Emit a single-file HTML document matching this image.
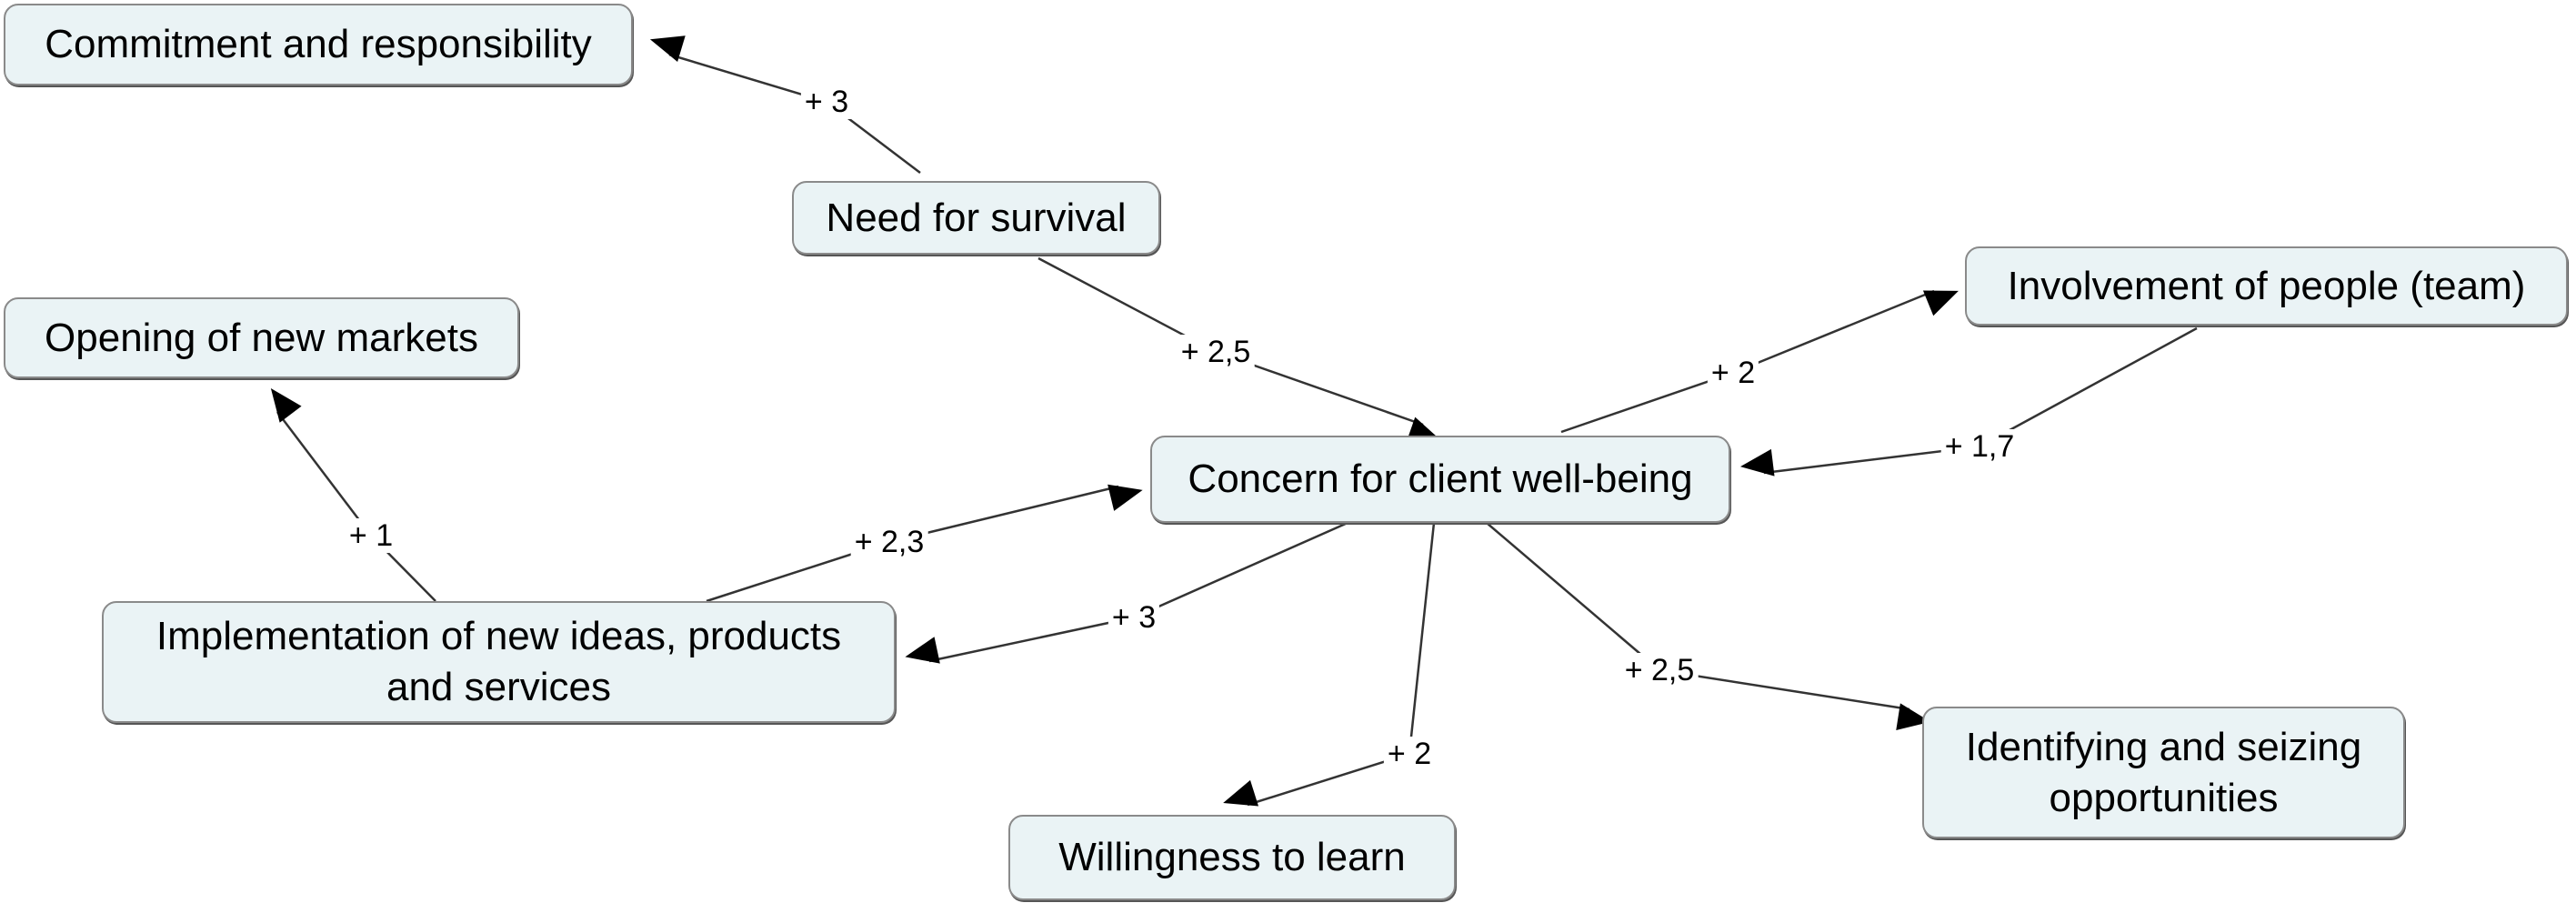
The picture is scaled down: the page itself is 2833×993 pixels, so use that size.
<!DOCTYPE html>
<html><head><meta charset="utf-8"><style>
html,body{margin:0;padding:0;background:#fff;}
body{width:2833px;height:993px;position:relative;overflow:hidden;font-family:"Liberation Sans",Arial,sans-serif;}
.n{position:absolute;box-sizing:border-box;background:#eaf3f5;border:2px solid #8a8a8a;border-radius:16px;box-shadow:1px 2px 0 #555;display:flex;align-items:center;justify-content:center;text-align:center;font-size:44px;line-height:56px;color:#000;}
.l{position:absolute;font-size:34px;color:#000;background:#fff;padding:0 4px;transform:translate(-50%,-50%);white-space:nowrap;line-height:38px;}
svg{position:absolute;left:0;top:0;}
</style></head><body>
<svg width="2833" height="993" viewBox="0 0 2833 993">
<defs><marker id="a" markerWidth="12" markerHeight="10" refX="11" refY="5" orient="auto" markerUnits="userSpaceOnUse" viewBox="0 0 12 10" style="overflow:visible"><path d="M0,0 L12,5 L0,10 z" transform="scale(3)" fill="#000"/></marker></defs>
<g stroke="#333" stroke-width="2.5" fill="none">
<line x1="1012" y1="190" x2="909" y2="112"/><line x1="909" y1="112" x2="736" y2="60" marker-end="url(#a)"/>
<line x1="1142" y1="284" x2="1337" y2="387"/><line x1="1337" y1="387" x2="1565" y2="467" marker-end="url(#a)"/>
<line x1="1717" y1="475" x2="1906" y2="410"/><line x1="1906" y1="410" x2="2127" y2="320" marker-end="url(#a)"/>
<line x1="2416" y1="361" x2="2177" y2="491"/><line x1="2177" y1="491" x2="1940" y2="520" marker-end="url(#a)"/>
<line x1="777" y1="661" x2="978" y2="596"/><line x1="978" y1="596" x2="1230" y2="535" marker-end="url(#a)"/>
<line x1="479" y1="661" x2="408" y2="589"/><line x1="408" y1="589" x2="305" y2="453" marker-end="url(#a)"/>
<line x1="1482" y1="575" x2="1247" y2="679"/><line x1="1247" y1="679" x2="1022" y2="727" marker-end="url(#a)"/>
<line x1="1577" y1="575" x2="1550" y2="829"/><line x1="1550" y1="829" x2="1372" y2="885" marker-end="url(#a)"/>
<line x1="1635" y1="575" x2="1825" y2="737"/><line x1="1825" y1="737" x2="2100" y2="780" marker-end="url(#a)"/>
</g></svg>
<div class="n" style="left:4px;top:4px;width:692px;height:90px">Commitment and responsibility</div>
<div class="n" style="left:871px;top:199px;width:405px;height:81px">Need for survival</div>
<div class="n" style="left:4px;top:327px;width:567px;height:89px">Opening of new markets</div>
<div class="n" style="left:1265px;top:479px;width:638px;height:96px">Concern for client well-being</div>
<div class="n" style="left:2161px;top:271px;width:663px;height:87px">Involvement of people (team)</div>
<div class="n" style="left:112px;top:661px;width:873px;height:134px">Implementation of new ideas, products<br>and services</div>
<div class="n" style="left:1109px;top:896px;width:492px;height:94px">Willingness to learn</div>
<div class="n" style="left:2114px;top:777px;width:531px;height:145px">Identifying and seizing<br>opportunities</div>
<div class="l" style="left:909px;top:112px">+ 3</div>
<div class="l" style="left:1337px;top:387px">+ 2,5</div>
<div class="l" style="left:1906px;top:410px">+ 2</div>
<div class="l" style="left:2177px;top:491px">+ 1,7</div>
<div class="l" style="left:978px;top:596px">+ 2,3</div>
<div class="l" style="left:408px;top:589px">+ 1</div>
<div class="l" style="left:1247px;top:679px">+ 3</div>
<div class="l" style="left:1550px;top:829px">+ 2</div>
<div class="l" style="left:1825px;top:737px">+ 2,5</div>
</body></html>
